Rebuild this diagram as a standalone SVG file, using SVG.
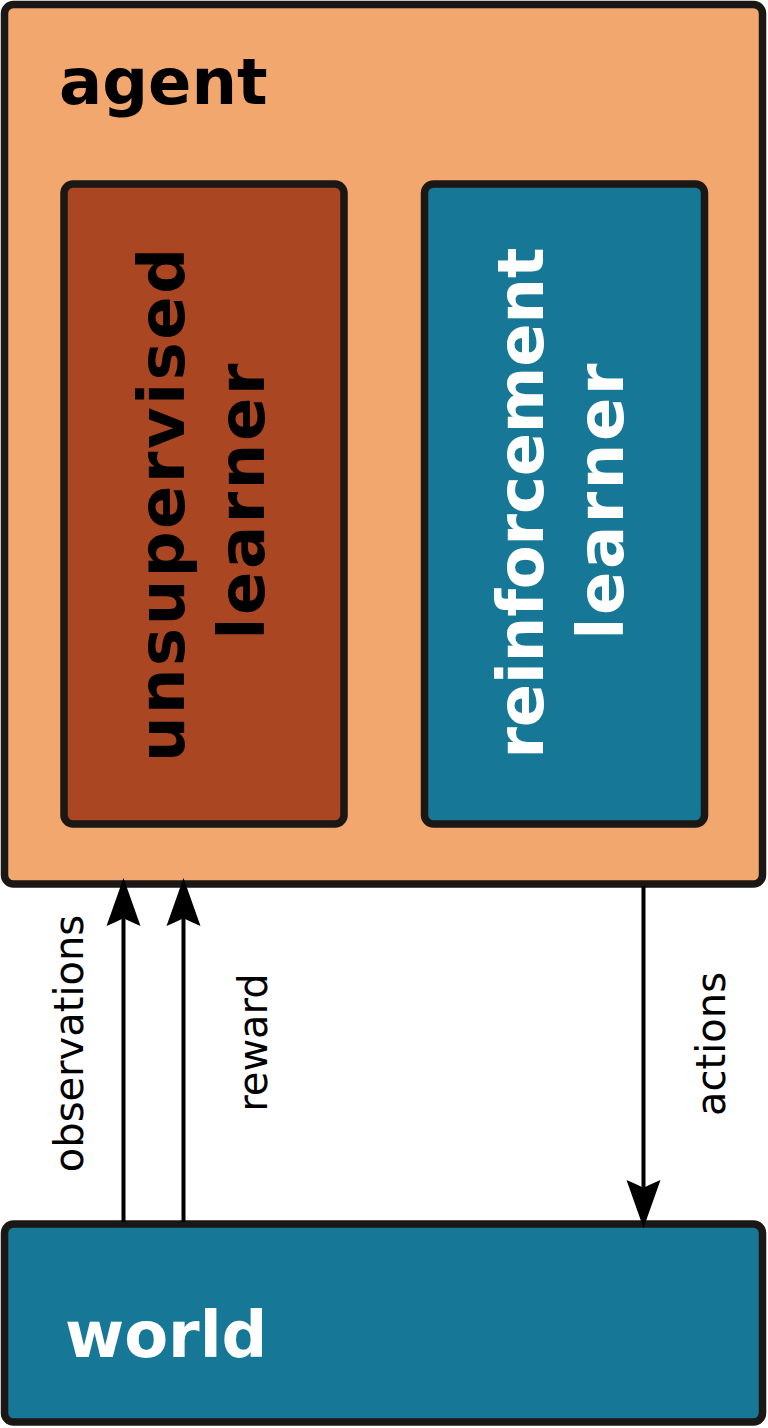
<svg xmlns="http://www.w3.org/2000/svg" width="768" height="1428" viewBox="0 0 768 1428">
<style>
.box{stroke:#1a1714;stroke-width:7.5}
.big{font-family:"DejaVu Sans",sans-serif;font-weight:bold;font-size:64px}
.small{font-family:"DejaVu Sans",sans-serif;font-size:40px;fill:#000}
.conn{stroke:#000;stroke-width:4;fill:none}
</style>
<defs>
<marker id="ah" markerUnits="userSpaceOnUse" markerWidth="60" markerHeight="40" viewBox="-10 -20 60 40" refX="0" refY="0" orient="auto" overflow="visible">
<path d="M40,0 L-8,-17 Q-2,-3 0,0 Q-2,3 -8,17 Z" fill="#000"/>
</marker>
</defs>
<rect width="768" height="1428" fill="#fff"/>
<g id="agent">
<rect class="box" x="4.5" y="4.5" width="758" height="879.5" rx="9" fill="#f2a76e"/>
<text class="big" x="59" y="104" fill="#000">agent</text>
</g>
<g id="unsupervised-learner">
<rect class="box" x="64" y="184" width="280" height="640" rx="9" fill="#ab4623"/>
<text class="big" fill="#000" text-anchor="middle" transform="rotate(-90 184 505)" x="184" y="505" textLength="514">unsupervised</text>
<text class="big" fill="#000" text-anchor="middle" transform="rotate(-90 264 501.5)" x="264" y="501.5" textLength="276">learner</text>
</g>
<g id="reinforcement-learner">
<rect class="box" x="424.5" y="184" width="280" height="640" rx="9" fill="#167896"/>
<text class="big" fill="#fff" text-anchor="middle" transform="rotate(-90 543 503)" x="543" y="503" textLength="511">reinforcement</text>
<text class="big" fill="#fff" text-anchor="middle" transform="rotate(-90 623 501.5)" x="623" y="501.5" textLength="276">learner</text>
</g>
<g id="world">
<rect class="box" x="4.5" y="1224" width="758" height="198" rx="9" fill="#167896"/>
<text class="big" x="65" y="1357" fill="#fff">world</text>
</g>
<g id="connectors">
<line class="conn" x1="123.5" y1="1222" x2="123.5" y2="918" marker-end="url(#ah)"/>
<line class="conn" x1="183.5" y1="1222" x2="183.5" y2="918" marker-end="url(#ah)"/>
<line class="conn" x1="643.5" y1="886" x2="643.5" y2="1188" marker-end="url(#ah)"/>
<text class="small" text-anchor="middle" transform="rotate(-90 83 1043.5)" x="83" y="1043.5">observations</text>
<text class="small" text-anchor="middle" transform="rotate(-90 267 1042.5)" x="267" y="1042.5">reward</text>
<text class="small" text-anchor="middle" transform="rotate(-90 725 1044)" x="725" y="1044">actions</text>
</g>
</svg>
